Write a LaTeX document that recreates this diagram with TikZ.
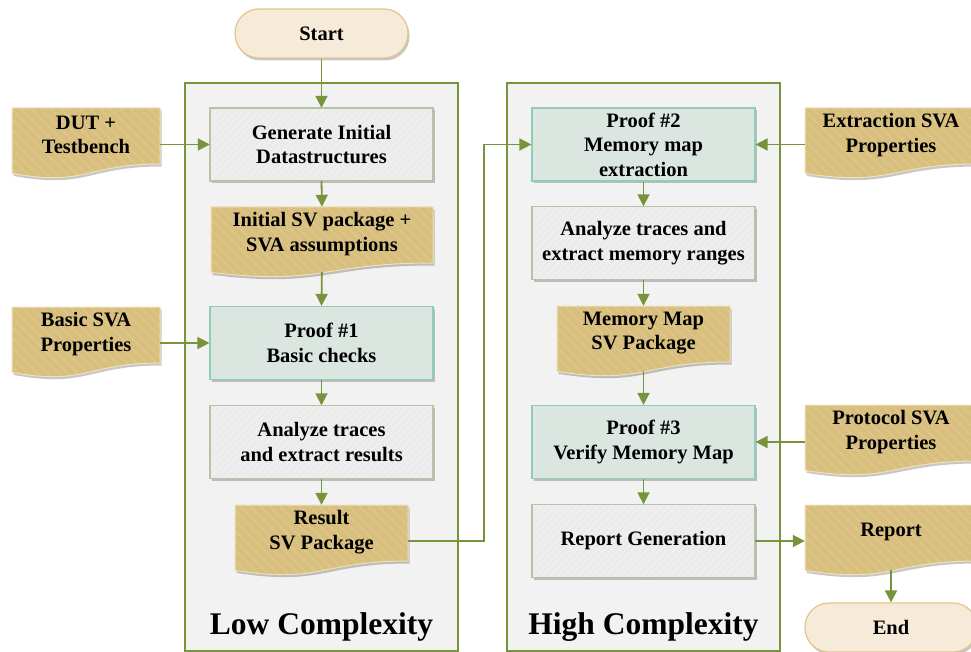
\documentclass[tikz,border=0pt]{standalone}
\usepackage{fontspec}
\setmainfont{Liberation Serif}
\usetikzlibrary{arrows.meta,patterns.meta,shadows,calc}
\definecolor{olivec}{HTML}{77933C}
\definecolor{contfill}{HTML}{F2F2F2}
\definecolor{grayfill}{HTML}{EBEBEB}
\definecolor{graystripe}{HTML}{F1F1F1}
\definecolor{grayline}{HTML}{B8C2A4}
\definecolor{prooffill}{HTML}{DCE6E1}
\definecolor{proofline}{HTML}{8FCDB6}
\definecolor{docfill}{HTML}{D8BF7E}
\definecolor{docstripe}{HTML}{DEC78C}
\definecolor{docline}{HTML}{EEE1B8}
\definecolor{pillfill}{HTML}{F5EBD8}
\definecolor{pillline}{HTML}{E2C58B}
\newcommand{\bodyfont}{\fontsize{20.5}{24.5}\selectfont\bfseries}
\newcommand{\docnode}[5]{%
  \path[docshape] ({#2-#4/2},#3) -- ({#2+#4/2},#3) -- ({#2+#4/2},{#3+56}) .. controls (#2,{#3+56}) and (#2,{#3+79}) .. ({#2-#4/2},{#3+65.4}) -- cycle;
  \node[doctext,minimum width=#4pt] (#1) at (#2,{#3+27}) {#5};}
\tikzset{
  softshadow/.style={drop shadow={shadow xshift=1.5pt,shadow yshift=-2.5pt,opacity=.22,fill=black}},
  container/.style={draw=olivec,fill=contfill,line width=1.8pt},
  graybox/.style={rectangle,fill=grayfill,minimum width=223pt,minimum height=73pt,align=center,font=\bodyfont,softshadow,
    postaction={pattern={Lines[angle=45,distance=5pt,line width=1.2pt]},pattern color=graystripe},
    postaction={draw=grayline,line width=1.2pt}},
  proofbox/.style={rectangle,draw=proofline,line width=1.2pt,fill=prooffill,minimum width=223pt,minimum height=73pt,align=center,font=\bodyfont,softshadow},
  docshape/.style={fill=docfill,softshadow,
    postaction={pattern={Lines[angle=-45,distance=7pt,line width=1.4pt]},pattern color=docstripe},
    postaction={draw=docline,line width=1pt}},
  doctext/.style={rectangle,inner sep=0pt,minimum height=54pt,align=center,font=\bodyfont},
  pill/.style={rectangle,rounded corners=24pt,draw=pillline,line width=1.2pt,fill=pillfill,minimum height=49pt,font=\bodyfont,softshadow},
  bigtext/.style={font=\fontsize{31.5}{38}\selectfont\bfseries},
  conn/.style={draw=olivec,line width=1.8pt,-{Triangle[length=12pt,width=12pt]}},
  fromdoc/.style={shorten <=11pt}
}
\begin{document}
\begin{tikzpicture}[x=1pt,y=-1pt]
\useasboundingbox (0,0) rectangle (971,652);
% containers
\node[container,minimum width=273pt,minimum height=568pt] (lowc) at (321.5,367) {};
\node[container,minimum width=273pt,minimum height=568pt] (highc) at (643.5,367) {};
\node[bigtext] (lowt) at (321.5,627) {Low Complexity};
\node[bigtext] (hight) at (643.5,627) {High Complexity};
% start / end
\node[pill,minimum width=173pt] (start) at (321.5,33.5) {Start};
\node[pill,minimum width=172pt] (end) at (891,627.5) {End};
% left column
\node[graybox] (gen) at (321.5,144.5) {Generate Initial\\Datastructures};
\docnode{initpkg}{322}{207}{222}{Initial SV package +\\SVA assumptions}
\node[proofbox] (proof1) at (321.5,343) {Proof \#1\\Basic checks};
\node[graybox] (ana1) at (321.5,442) {Analyze traces\\and extract results};
\docnode{result}{321.5}{505}{173}{Result\\SV Package}
% left inputs
\docnode{dut}{86}{108}{148}{DUT +\\Testbench}
\docnode{basic}{86}{307}{148}{Basic SVA\\Properties}
% right column
\node[proofbox] (proof2) at (643.5,144.5) {Proof \#2\\Memory map\\extraction};
\node[graybox] (ana2) at (643.5,243) {Analyze traces and\\extract memory ranges};
\docnode{memmap}{643.5}{306}{173}{Memory Map\\SV Package}
\node[proofbox] (proof3) at (643.5,442) {Proof \#3\\Verify Memory Map};
\node[graybox] (repgen) at (643.5,541) {Report Generation};
% right inputs / outputs
\docnode{extr}{891}{108}{172}{Extraction SVA\\Properties}
\docnode{protocol}{891}{405}{172}{Protocol SVA\\Properties}
\docnode{report}{891}{505}{172}{Report}
% connectors
\draw[conn] (start.south) -- (gen.north);
\draw[conn] (dut.east |- gen.west) -- (gen.west);
\draw[conn] (gen.south) -- (initpkg.north);
\draw[conn,fromdoc] (initpkg.south) -- (proof1.north);
\draw[conn] (basic.east |- proof1.west) -- (proof1.west);
\draw[conn] (proof1.south) -- (ana1.north);
\draw[conn] (ana1.south) -- (result.north);
\draw[conn] ($(result.east)+(0,9)$) -- ++(76,0) |- (proof2.west);
\draw[conn] (extr.west |- proof2.east) -- (proof2.east);
\draw[conn] (proof2.south) -- (ana2.north);
\draw[conn] (ana2.south) -- (memmap.north);
\draw[conn,fromdoc] (memmap.south) -- (proof3.north);
\draw[conn] (protocol.west |- proof3.east) -- (proof3.east);
\draw[conn] (proof3.south) -- (repgen.north);
\draw[conn] (repgen.east) -- (repgen.east -| report.west);
\draw[conn,fromdoc] (report.south) -- (end.north);
\end{tikzpicture}
\end{document}
